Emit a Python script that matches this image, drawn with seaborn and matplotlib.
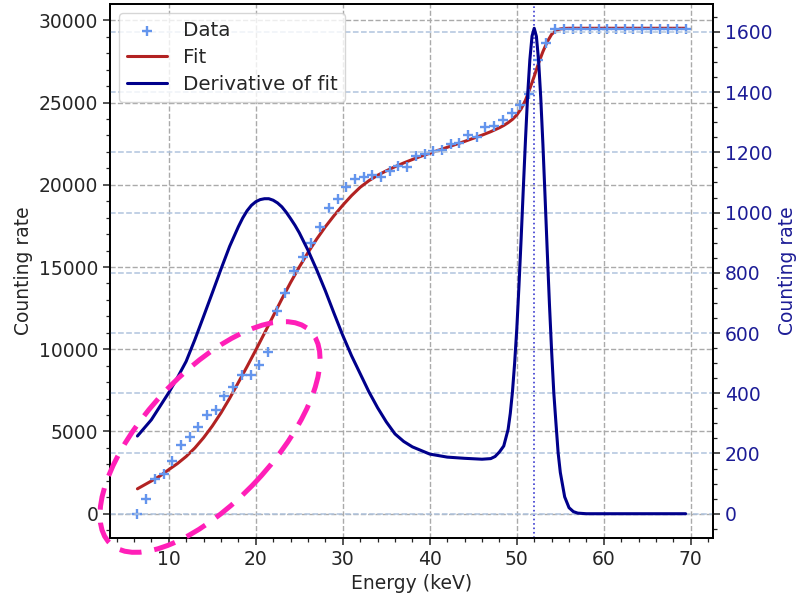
import numpy as np
import pandas as pd
import matplotlib
matplotlib.use("Agg")
import matplotlib.pyplot as plt
import seaborn as sns
from matplotlib.patches import Ellipse
from matplotlib.transforms import IdentityTransform
from matplotlib.ticker import MultipleLocator, AutoMinorLocator

# ---------------- data ----------------
energy = [6.4, 7.4, 8.4, 9.4, 10.4, 11.4, 12.4, 13.4, 14.4, 15.4, 16.4, 17.4,
          18.4, 19.4, 20.4, 21.4, 22.4, 23.4, 24.4, 25.4, 26.4, 27.4, 28.4, 29.4,
          30.4, 31.4, 32.4, 33.4, 34.4, 35.4, 36.4, 37.4, 38.4, 39.4, 40.4, 41.4,
          42.4, 43.4, 44.4, 45.4, 46.4, 47.4, 48.4, 49.4, 50.4, 51.4, 52.4, 53.4,
          54.4, 55.4, 56.4, 57.4, 58.4, 59.4, 60.4, 61.4, 62.4, 63.4, 64.4, 65.4,
          66.4, 67.4, 68.4, 69.4]
counts = [0, 910, 2100, 2400, 3230, 4150, 4640, 5285, 5976, 6320, 7150, 7724,
          8450, 8450, 9025, 9860, 12300, 13400, 14750, 15640, 16490, 17440, 18580, 19130,
          19880, 20360, 20500, 20570, 20500, 20815, 21140, 21080, 21750, 21870, 22060, 22110,
          22480, 22550, 23030, 22930, 23490, 23600, 23925, 24350, 24880, 25550, 27580, 28600,
          29500, 29500, 29500, 29500, 29500, 29500, 29500, 29500, 29500, 29500, 29500, 29500,
          29500, 29500, 29500, 29500]

fit_energy = [6.4, 8, 9, 10, 11, 12, 13, 14, 15, 16, 17, 18, 19, 20, 21, 22, 23, 24,
              25, 26, 27, 28, 29, 30, 31, 32, 33, 34, 35, 36, 37, 38, 39, 40, 41, 42,
              43, 44, 45, 46, 47, 48, 48.5, 49, 49.5, 50, 50.5, 51, 51.5, 52, 52.5, 53,
              53.5, 54, 54.5, 55, 55.5, 56, 57, 60, 65, 69.4]
fit_counts = [1515, 1990, 2300, 2680, 3050, 3480, 4000, 4620, 5330, 6130, 7020, 7980,
              8950, 9950, 10980, 12020, 13060, 14060, 15000, 15880, 16700, 17450, 18130,
              18760, 19340, 19850, 20250, 20580, 20850, 21100, 21330, 21540, 21740, 21920,
              22100, 22280, 22460, 22640, 22830, 23020, 23230, 23470, 23610, 23780, 23980,
              24250, 24620, 25150, 25850, 26600, 27400, 28100, 28700, 29150, 29380, 29480,
              29510, 29520, 29520, 29520, 29520, 29520]

deriv_energy = [6.4, 8, 10, 11, 12, 13, 14, 15, 16, 17, 18, 18.5, 19, 19.5, 20, 20.5,
                21, 21.5, 22, 22.5, 23, 23.5, 24, 24.5, 25, 26, 27, 28, 29, 30, 31, 32,
                33, 34, 35, 36, 37, 38, 40, 42, 44, 46, 47, 47.5, 48, 48.5, 49, 49.25,
                49.5, 49.75, 50, 50.25, 50.5, 50.75, 51, 51.25, 51.5, 51.75, 52, 52.25,
                52.5, 52.75, 53, 53.25, 53.5, 53.75, 54, 54.25, 54.5, 54.75, 55, 55.5,
                56, 56.5, 57, 58, 60, 65, 69.4]
deriv_counts = [258, 312, 402, 452, 506, 578, 655, 733, 812, 888, 953, 982, 1006,
                1024, 1036, 1043, 1046, 1046, 1041, 1032, 1019, 1001, 980, 958, 933,
                875, 810, 740, 665, 592, 525, 465, 405, 352, 305, 265, 240, 222, 198,
                188, 184, 181, 183, 190, 205, 225, 280, 333, 405, 500, 615, 758, 915,
                1082, 1244, 1393, 1508, 1586, 1612, 1585, 1506, 1382, 1226, 1050, 870,
                696, 540, 402, 300, 202, 137, 56, 20, 7, 2, 0, 0, 0, 0]

peak_energy = 52.0

# ---------------- styling ----------------
sns.set_theme(style="ticks")
plt.rcParams['font.family'] = ['DejaVu Sans']

DATA_C = "cornflowerblue"
FIT_C = "#b22222"
DER_C = "#00008b"
RIGHT_TXT = "#1c1c96"

fig = plt.figure(figsize=(7.99, 5.95), dpi=100)
ax = fig.add_axes([0.1377, 0.0958, 0.7547, 0.8975])
ax2 = ax.twinx()

sns.scatterplot(x=energy, y=counts, ax=ax, marker='+', s=60, linewidth=1.7,
                color=DATA_C, label='Data', zorder=3)
sns.lineplot(x=fit_energy, y=fit_counts, ax=ax, color=FIT_C, lw=2.2,
             label='Fit', zorder=2)
sns.lineplot(x=deriv_energy, y=deriv_counts, ax=ax2, color=DER_C, lw=2.2,
             label='Derivative of fit', zorder=2)
ax.axvline(peak_energy, color='#3a3ad0', ls=':', lw=1.2, zorder=1)

# grids
ax.grid(True, which='major', axis='both', color='#aaaaaa', linestyle='--', lw=1.0)
ax2.grid(True, which='major', axis='y', color='#b0c4de', linestyle='--', lw=1.1)
ax2.grid(False, axis='x')
ax.set_axisbelow(True)

# ticks
ax.xaxis.set_major_locator(MultipleLocator(10))
ax.xaxis.set_minor_locator(AutoMinorLocator(5))
ax.yaxis.set_major_locator(MultipleLocator(5000))
ax.yaxis.set_minor_locator(AutoMinorLocator(5))
ax2.yaxis.set_major_locator(MultipleLocator(200))
ax2.yaxis.set_minor_locator(AutoMinorLocator(4))
for a in (ax, ax2):
    a.tick_params(which='major', length=5, width=1.1, labelsize=13.5, direction='out')
    a.tick_params(which='minor', length=3, width=0.9, direction='out')
ax2.tick_params(axis='y', labelcolor=RIGHT_TXT)
for a in (ax, ax2):
    for s in a.spines.values():
        s.set_color('black')
        s.set_linewidth(1.3)

ax.set_xlabel('Energy (keV)', fontsize=13.5)
ax.set_ylabel('Counting rate', fontsize=13.5)
ax2.set_ylabel('Counting rate', fontsize=13.5, color=RIGHT_TXT)

# legend (combined)
ax.get_legend().remove()
ax2.get_legend().remove()
h1, l1 = ax.get_legend_handles_labels()
h2, l2 = ax2.get_legend_handles_labels()
ax2.legend(h1 + h2, l1 + l2, loc='upper left', fontsize=14.3, frameon=True,
           fancybox=True, framealpha=0.8, edgecolor='#cccccc',
           labelspacing=0.4, borderaxespad=0.45)

# annotation ellipse (pixel coordinates of the figure)
ell = Ellipse((210, 158), width=292, height=128, angle=47, fill=False,
              edgecolor='#ff1fb8', lw=3.6, linestyle=(0, (4.4, 2.6)),
              transform=IdentityTransform(), clip_on=False, zorder=10)
fig.add_artist(ell)

fig.savefig('out.png', dpi=100)
